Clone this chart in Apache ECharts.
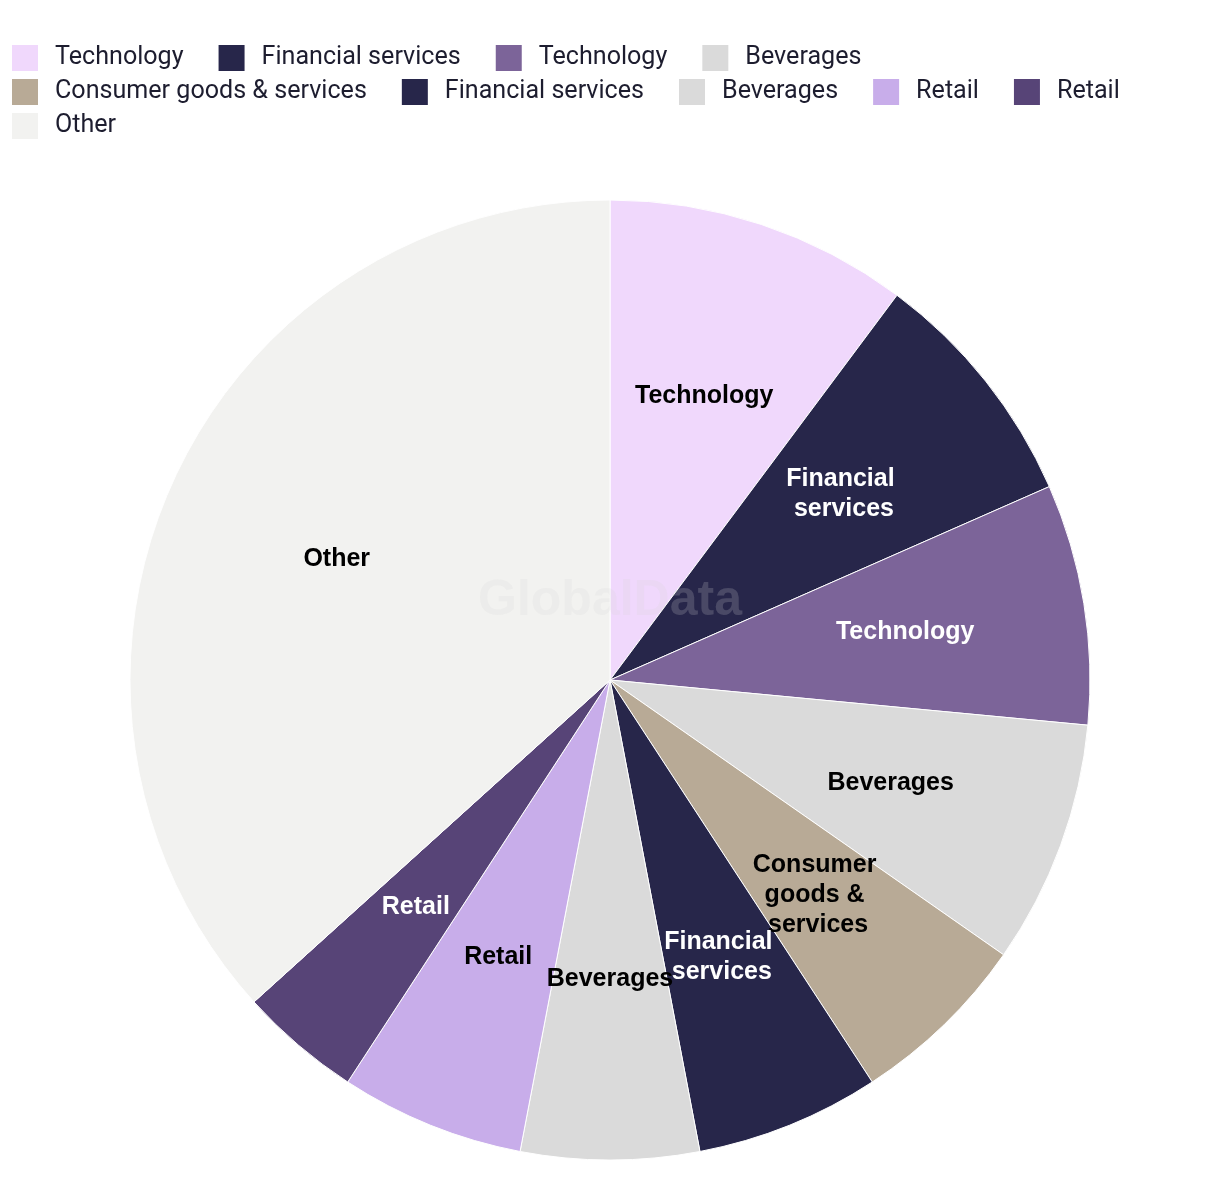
<!DOCTYPE html>
<html>
<head>
<meta charset="utf-8">
<title>Pie</title>
<script src="https://cdn.jsdelivr.net/npm/echarts@6/dist/echarts.min.js"></script>
<style>
  html, body { margin: 0; padding: 0; background: #fff; }
  #chart { width: 1220px; height: 1202px; }
</style>
</head>
<body>
<div id="chart"></div>
<script>
// slice categories, clockwise from 12 o'clock
var categories = [
  "Technology", "Financial services", "Technology", "Beverages",
  "Consumer goods & services", "Financial services", "Beverages",
  "Retail", "Retail", "Other"
];
// share of total (%)
var values = [10.2, 8.2, 8.1, 8.2, 6.1, 6.2, 6.0, 6.2, 4.1, 36.7];

var sliceColors = [
  "#F0D8FC", "#27264A", "#7C6499", "#DADADA", "#B8AA96",
  "#27264A", "#DADADA", "#C8ADEA", "#574477", "#F2F2F0"
];
var labelColors = [
  "#000", "#fff", "#fff", "#000", "#000",
  "#fff", "#000", "#000", "#fff", "#000"
];
// legend rows (index into categories)
var legendRows = [[0, 1, 2, 3], [4, 5, 6, 7, 8], [9]];

// names have to be unique for the legend, text comes from categories
var keys = categories.map(function (c, i) { return "s" + i; });
var keyToLabel = {};
keys.forEach(function (k, i) { keyToLabel[k] = categories[i]; });

var legends = legendRows.map(function (row, r) {
  return {
    left: 5,
    top: 38 + r * 34,
    icon: "rect",
    itemWidth: 28,
    itemHeight: 28,
    itemGap: 33,
    selectedMode: false,
    data: row.map(function (i) { return keys[i]; }),
    formatter: function (name) { return keyToLabel[name]; },
    textStyle: {
      fontFamily: "Roboto",
      fontSize: 25.1,
      color: "#1d1d2f",
      padding: [4, 0, 0, 11],
    },
  };
});

var option = {
  animation: false,
  backgroundColor: "#fff",
  legend: legends,
  graphic: [
    {
      type: "text",
      x: 610,
      y: 601,
      z: 100,
      silent: true,
      style: {
        text: "GlobalData",
        font: 'bold 50px "Liberation Sans"',
        fill: "rgba(214,214,214,0.2)",
        textAlign: "center",
        textVerticalAlign: "middle",
      },
    },
  ],
  series: [
    {
      // the slices
      type: "pie",
      center: [610, 680],
      radius: [0, 480],
      startAngle: 90,
      clockwise: true,
      avoidLabelOverlap: false,
      label: { show: false },
      labelLine: { show: false },
      emphasis: { disabled: true },
      itemStyle: { borderColor: "#fff", borderWidth: 1 },
      data: values.map(function (v, i) {
        return { name: keys[i], value: v, itemStyle: { color: sliceColors[i] } };
      }),
    },
    {
      // label ring, so labels sit at ~0.62 of the radius
      type: "pie",
      center: [610, 680],
      radius: [112, 480],
      startAngle: 90,
      clockwise: true,
      silent: true,
      avoidLabelOverlap: false,
      labelLayout: { hideOverlap: false },
      emphasis: { disabled: true },
      itemStyle: { color: "transparent", borderWidth: 0 },
      labelLine: { show: false },
      label: {
        show: true,
        position: "inside",
        fontFamily: "Liberation Sans",
        fontWeight: "bold",
        fontSize: 25,
        lineHeight: 30,
        width: 165,
        overflow: "break",
        align: "center",
        padding: [4, 0, 0, 0],
        formatter: function (p) { return categories[p.dataIndex]; },
      },
      data: values.map(function (v, i) {
        return { name: keys[i], value: v, label: { color: labelColors[i] } };
      }),
    },
  ],
};

var myChart = echarts.init(document.getElementById("chart"));
myChart.setOption(option);
window.addEventListener("resize", function () {
  myChart.resize();
});
</script>
</body>
</html>
